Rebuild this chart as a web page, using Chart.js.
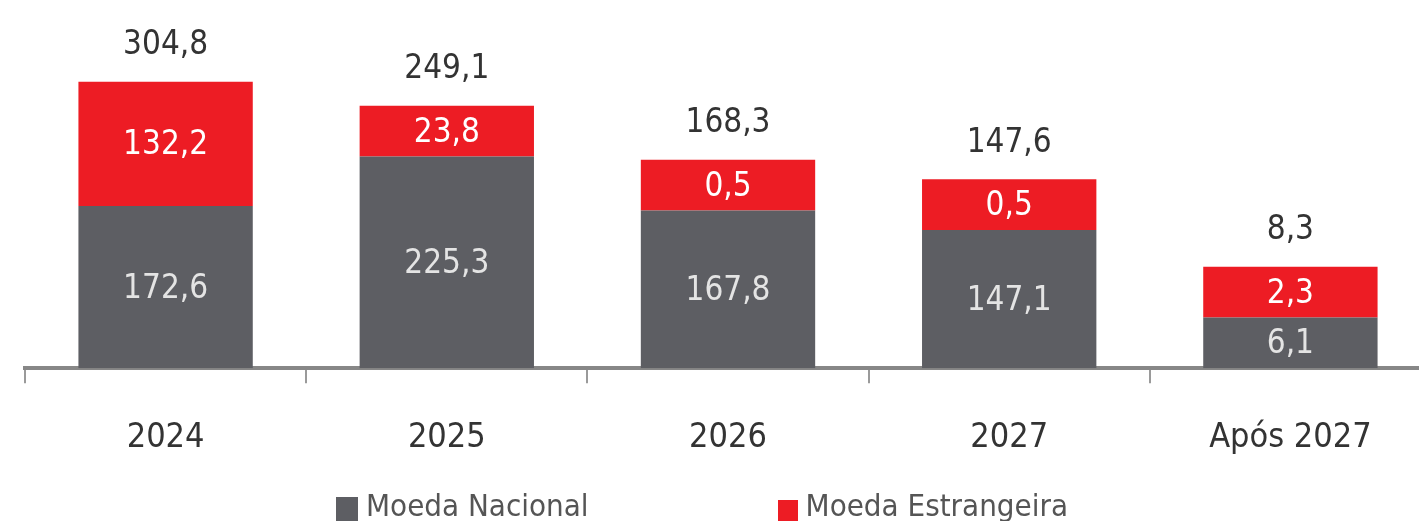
<!DOCTYPE html>
<html lang="pt">
<head>
<meta charset="utf-8">
<script src="https://cdn.jsdelivr.net/npm/chart.js@4.4.1/dist/chart.umd.min.js"></script>
<style>
    html, body { margin: 0; padding: 0; background: #fff; overflow: hidden; }
    #wrap { position: relative; width: 1432px; height: 521px; }
    #legend {
        position: absolute; left: 336px; top: 490px;
        display: flex; align-items: flex-end; gap: 189px;
        font-family: 'Liberation Sans Narrow', 'DejaVu Sans Condensed', 'Roboto', sans-serif;
        font-size: 31px; letter-spacing: 0px; color: #555; line-height: 31px;
    }
    #legend .item { display: flex; align-items: flex-end; }
    #legend .box { display: inline-block; margin-right: 8px; }
</style>
</head>
<body>
<div id="wrap">
    <canvas id="chart" width="1432" height="521"></canvas>
    <div id="legend"></div>
</div>
<script>
const categories = ['2024', '2025', '2026', '2027', 'Após 2027'];
const moedaNacional = [172.6, 225.3, 167.8, 147.1, 6.1];
const moedaEstrangeira = [132.2, 23.8, 0.5, 0.5, 2.3];
const totals = [304.8, 249.1, 168.3, 147.6, 8.3];

// The original enlarges thin segments so their labels fit inside
const MIN_SEGMENT = 54;
const shown = arr => arr.map(v => Math.max(v, MIN_SEGMENT));

const GRAY = '#5d5e63';
const RED = '#ed1c24';
const FONT = "'Liberation Sans Narrow', 'DejaVu Sans Condensed', 'Roboto', sans-serif";

const fmt = v => v.toFixed(1).replace('.', ',');

const valueLabels = {
    id: 'valueLabels',
    afterDatasetsDraw(chart) {
        const ctx = chart.ctx;
        ctx.save();
        ctx.font = '33px ' + FONT;
        ctx.textAlign = 'center';
        ctx.textBaseline = 'middle';
        chart.data.datasets.forEach((ds, i) => {
            const meta = chart.getDatasetMeta(i);
            meta.data.forEach((bar, j) => {
                ctx.fillStyle = ds.labelColor;
                ctx.fillText(fmt(ds.realValues[j]), bar.x, (bar.y + bar.base) / 2 + 2);
            });
        });
        // totals above the stack
        const topMeta = chart.getDatasetMeta(chart.data.datasets.length - 1);
        ctx.fillStyle = '#333';
        topMeta.data.forEach((bar, j) => {
            ctx.fillText(fmt(totals[j]), bar.x, bar.y - 36);
        });
        ctx.restore();
    }
};

const chart = new Chart(document.getElementById('chart'), {
    type: 'bar',
    data: {
        labels: categories,
        datasets: [{
            label: 'Moeda Nacional',
            data: shown(moedaNacional),
            realValues: moedaNacional,
            labelColor: '#e4e4e4',
            backgroundColor: GRAY
        }, {
            label: 'Moeda Estrangeira',
            data: shown(moedaEstrangeira),
            realValues: moedaEstrangeira,
            labelColor: '#ffffff',
            backgroundColor: RED
        }]
    },
    options: {
        responsive: false,
        animation: false,
        layout: { padding: { top: 58, left: 25, right: 1, bottom: 27 } },
        datasets: {
            bar: { categoryPercentage: 1, barPercentage: 0.62 }
        },
        plugins: {
            legend: { display: false },
            tooltip: { enabled: false }
        },
        scales: {
            x: {
                stacked: true,
                border: { display: true, color: '#878787', width: 4 },
                grid: {
                    display: true,
                    offset: true,
                    drawOnChartArea: false,
                    drawTicks: true,
                    tickLength: 15,
                    color: '#9a9a9a',
                    lineWidth: 2
                },
                ticks: {
                    color: '#333',
                    padding: 35,
                    font: { family: FONT, size: 34 }
                }
            },
            y: {
                stacked: true,
                display: false,
                min: 0,
                max: 330
            }
        }
    },
    plugins: [valueLabels]
});

// legend built from the datasets
const legendEl = document.getElementById('legend');
chart.data.datasets.forEach((ds, i) => {
    const item = document.createElement('span');
    item.className = 'item';
    const box = document.createElement('span');
    box.className = 'box';
    box.style.background = ds.backgroundColor;
    box.style.width = i === 0 ? '22px' : '20px';
    box.style.height = i === 0 ? '24px' : '21px';
    item.appendChild(box);
    item.appendChild(document.createTextNode(ds.label));
    legendEl.appendChild(item);
});
</script>
</body>
</html>
